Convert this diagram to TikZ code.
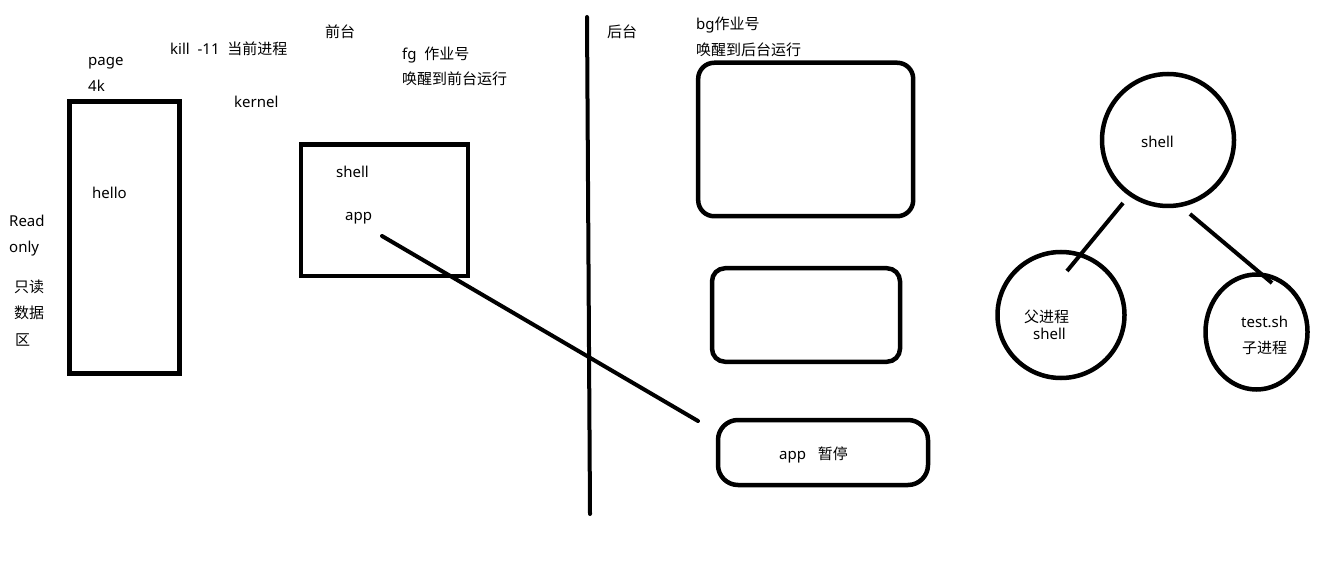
\documentclass[tikz,border=0pt]{standalone}
\usepackage{fontspec}
\setmainfont{Noto Sans}
\newfontfamily\cjk{Noto Sans CJK SC}
\usetikzlibrary{shapes.geometric}
\begin{document}
\begin{tikzpicture}[x=1pt,y=-1pt,
  txt/.style={inner sep=0pt, anchor=base west, font=\fontsize{15}{18}\selectfont, text=black, yshift=-2pt},
  box/.style={draw=black, line width=4.5pt, inner sep=0pt},
  rbox/.style={box, rounded corners=16pt},
  circ/.style={draw=black, line width=4.5pt, ellipse, inner sep=0pt},
  conn/.style={draw=black, line width=4pt}]
\useasboundingbox[fill=white] (0,0) rectangle (1341,577);

% left page box
\node[box, minimum width=110pt, minimum height=272pt] (pagebox) at (124.5,237.5) {};
\node[txt] (page) at (88,64) {page};
\node[txt] (fourk) at (88,90) {4k};
\node[txt] (hello) at (92,197) {hello};
\node[txt] (read) at (9,225) {Read};
\node[txt] (only) at (9,251) {only};
\node[txt] (zd) at (14,291) {\cjk 只读};
\node[txt] (sj) at (14,317) {\cjk 数据};
\node[txt] (qu) at (15,343) {\cjk 区};

\node[txt] (kill) at (170,53) {kill\ \ -11\ \ {\cjk 当前进程}};
\node[txt] (kernel) at (234,106) {kernel};
\node[txt] (qiantai) at (325,36) {\cjk 前台};
\node[txt] (fg) at (402,58) {fg\ \ {\cjk 作业号}};
\node[txt] (fgwake) at (402,83) {\cjk 唤醒到前台运行};

% shell box
\node[box, minimum width=167pt, minimum height=131.5pt] (shellbox) at (384.4,210.2) {};
\node[txt] (shelltxt) at (336,176) {shell};
\node[txt] (apptxt) at (345,219) {app};

% divider
\coordinate (divtop) at (587,17);
\coordinate (divbot) at (590,514);
\draw[conn, line cap=round] (divtop) -- (divbot);

\node[txt] (houtai) at (607,36) {\cjk 后台};
\node[txt] (bg) at (696,28) {bg{\cjk 作业号}};
\node[txt] (bgwake) at (696,54) {\cjk 唤醒到后台运行};

% background job boxes
\node[rbox, minimum width=215pt, minimum height=153.5pt] (job1) at (805.7,139.5) {};
\node[rbox, rounded corners=13pt, minimum width=188pt, minimum height=93.5pt] (job2) at (806,315) {};
\node[rbox, rounded corners=20pt, minimum width=210pt, minimum height=65pt] (job3) at (823,452.5) {};
\node[txt] (apppause) at (779,457) {app\ \ \ {\cjk 暂停}};

% app line
\coordinate (appa) at (382,236);
\coordinate (appb) at (698,421);
\draw[conn, line cap=round] (appa) -- (appb);

% process tree
\node[circ, minimum width=132pt, minimum height=132pt] (root) at (1168,140) {};
\node[txt] (roottxt) at (1141,146) {shell};
\node[circ, minimum width=127pt, minimum height=126pt] (parent) at (1061,315) {};
\node[txt] (ptxt1) at (1024,321) {\cjk 父进程};
\node[txt] (ptxt2) at (1033,337) {shell};
\node[circ, minimum width=102pt, minimum height=115pt] (child) at (1256.5,332) {};
\node[txt] (ctxt1) at (1241,325) {test.sh};
\node[txt] (ctxt2) at (1242,351) {\cjk 子进程};

\coordinate (la) at (1123,203);
\coordinate (lb) at (1067,271);
\coordinate (ra) at (1190,214);
\coordinate (rb) at (1272,283);
\draw[conn] (la) -- (lb);
\draw[conn] (ra) -- (rb);
\end{tikzpicture}
\end{document}
